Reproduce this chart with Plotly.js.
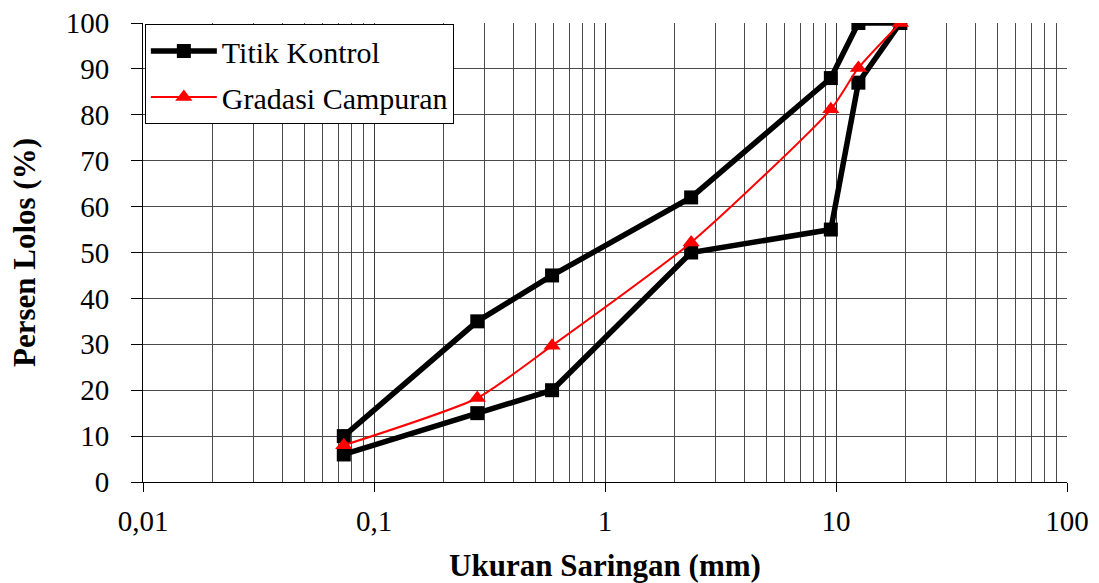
<!DOCTYPE html>
<html>
<head>
<meta charset="utf-8">
<script src="https://cdn.plot.ly/plotly-3.0.1.min.js"></script>
<style>html,body{margin:0;padding:0;background:#fff;}#chart{width:1099px;height:583px;}</style>
</head>
<body>
<div id="chart"></div>
<script>
// Titik Kontrol (upper then lower control points, one closed path)
const kontrolX = [0.074, 0.28, 0.59, 2.36, 9.5, 12.5, 19, 12.5, 9.5, 2.36, 0.59, 0.28, 0.074];
const kontrolY = [10, 35, 45, 62, 88, 100, 100, 87, 55, 50, 20, 15, 6];
// Gradasi Campuran
const campuranX = [0.074, 0.28, 0.59, 2.36, 9.5, 12.5, 19];
const campuranY = [8, 18.3, 29.7, 52.2, 81.2, 90.2, 100];
// Axis tick labels
const xTickVals = [0.01, 0.1, 1, 10, 100];
const xTickText = ["0,01", "0,1", "1", "10", "100"];
const yTickVals = [0, 10, 20, 30, 40, 50, 60, 70, 80, 90, 100];

const serif = "Liberation Serif";

const traces = [
  {
    x: kontrolX, y: kontrolY, name: "Titik Kontrol", type: "scatter", mode: "lines+markers",
    legendgroup: "a",
    line: {color: "#000", width: 5.5},
    marker: {symbol: "square", size: 14, color: "#000"}
  },
  {
    x: campuranX, y: campuranY, name: "Gradasi Campuran", type: "scatter", mode: "lines+markers",
    legendgroup: "b",
    line: {color: "#ff0000", width: 2, shape: "spline", smoothing: 0.6},
    marker: {symbol: "triangle-up", size: 15, color: "#ff0000"}
  }
];

const layout = {
  width: 1099, height: 583,
  margin: {l: 143, r: 32, t: 23, b: 101},
  paper_bgcolor: "#fff", plot_bgcolor: "#fff",
  font: {family: serif, color: "#000", size: 28},
  showlegend: true,
  legend: {
    x: 0.002, y: 0.998, xanchor: "left", yanchor: "top",
    bgcolor: "#fff", bordercolor: "#000", borderwidth: 1,
    font: {family: "serif", size: 30, color: "#000"},
    itemwidth: 66,
    tracegroupgap: 4
  },
  xaxis: {
    type: "log", range: [-2, 2],
    tickvals: xTickVals, ticktext: xTickText,
    ticks: "outside", ticklen: 9, tickcolor: "#000",
    ticklabelstandoff: 4,
    showline: true, linecolor: "#000", linewidth: 1,
    showgrid: true, gridcolor: "#3a3a3a", gridwidth: 1,
    minor: {dtick: "D1", showgrid: true, gridcolor: "#4a4a4a", gridwidth: 1, ticks: ""},
    zeroline: false,
    tickfont: {family: "Times New Roman", size: 29, color: "#000"},
    title: {text: "<b>Ukuran Saringan (mm)</b>", font: {family: serif, size: 31, color: "#000"}, standoff: 18}
  },
  yaxis: {
    range: [0, 100], tickvals: yTickVals,
    ticks: "outside", ticklen: 11, tickcolor: "#000",
    ticklabelstandoff: 16,
    showline: true, linecolor: "#000", linewidth: 1,
    showgrid: true, gridcolor: "#4a4a4a", gridwidth: 1,
    zeroline: false,
    tickfont: {family: serif, size: 29, color: "#000"},
    title: {text: "<b>Persen Lolos (%)</b>", font: {family: serif, size: 31, color: "#000"}, standoff: 20}
  }
};

Plotly.newPlot("chart", traces, layout, {staticPlot: true, displayModeBar: false});
</script>
</body>
</html>
